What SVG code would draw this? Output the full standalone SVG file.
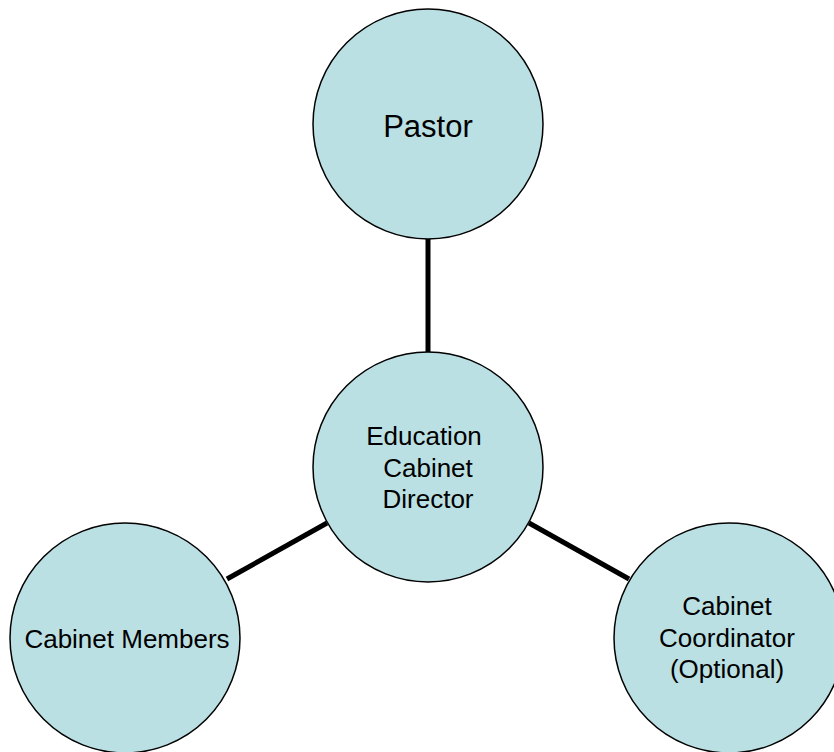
<svg xmlns="http://www.w3.org/2000/svg" width="834" height="752" viewBox="0 0 834 752">
  <style>
    .node { fill: #BBE0E3; stroke: #000; stroke-width: 1.5; }
    .link { stroke: #000; stroke-width: 5; fill: none; }
    text { font-family: "Liberation Sans", Arial, sans-serif; fill: #000; text-anchor: middle; }
    .big { font-size: 31px; }
    .lbl { font-size: 26px; }
  </style>
  <rect width="834" height="752" fill="#fff"/>
  <g id="connectors">
    <line class="link" x1="428" y1="238" x2="428" y2="354"/>
    <line class="link" x1="327" y1="523" x2="227" y2="579"/>
    <line class="link" x1="529" y1="523" x2="629" y2="579"/>
  </g>
  <g id="pastor">
    <circle class="node" cx="428" cy="124" r="115"/>
    <text class="big" x="428" y="137">Pastor</text>
  </g>
  <g id="director">
    <circle class="node" cx="428" cy="467" r="115"/>
    <text class="lbl" x="424" y="445">Education</text>
    <text class="lbl" x="428" y="477">Cabinet</text>
    <text class="lbl" x="428" y="508">Director</text>
  </g>
  <g id="members">
    <circle class="node" cx="125" cy="638" r="115"/>
    <text class="lbl" x="127" y="648">Cabinet Members</text>
  </g>
  <g id="coordinator">
    <circle class="node" cx="729" cy="638" r="115"/>
    <text class="lbl" x="727" y="615">Cabinet</text>
    <text class="lbl" x="727" y="647">Coordinator</text>
    <text class="lbl" x="727" y="678">(Optional)</text>
  </g>
</svg>
